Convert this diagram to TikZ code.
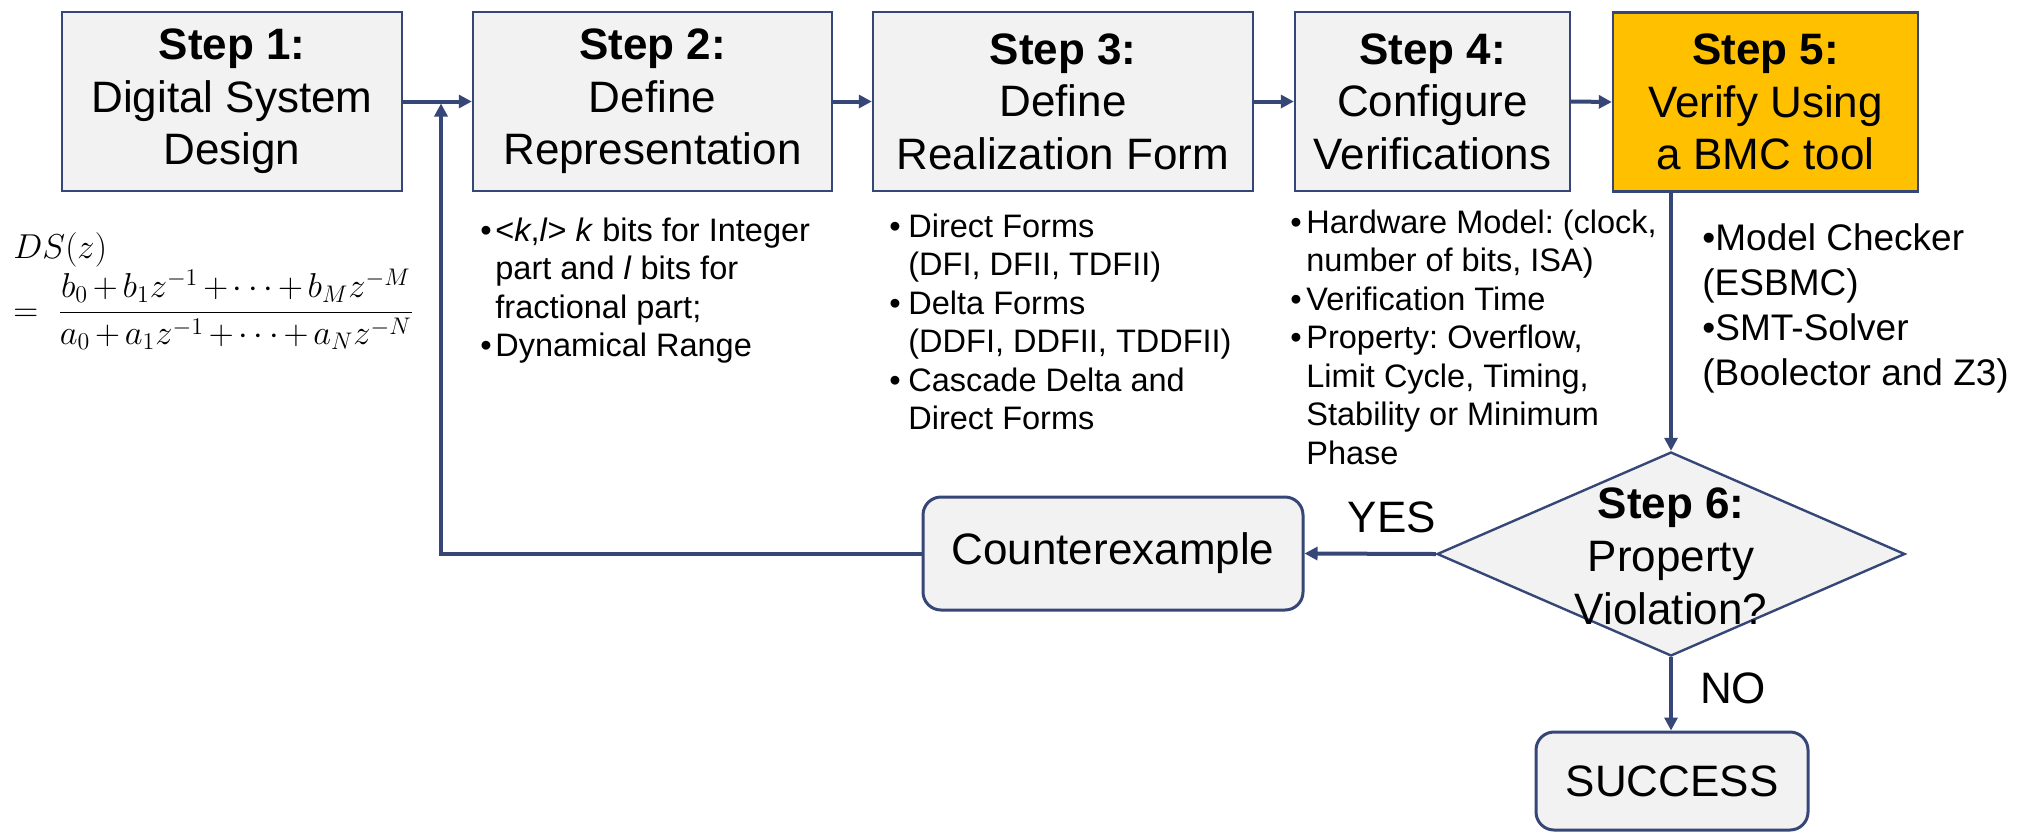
\documentclass[tikz,border=0pt]{standalone}
\usepackage{fontspec}
\setmainfont{Liberation Sans}
\usetikzlibrary{arrows.meta,shapes.geometric}

\definecolor{navy}{HTML}{364777}
\definecolor{boxgray}{HTML}{F2F2F2}
\definecolor{gold}{HTML}{FFC000}

\newcommand{\bul}[1]{\makebox[#1][l]{\textbullet}}
\frenchspacing

\begin{document}
\begin{tikzpicture}[x=0.5pt,y=-0.5pt,
  stepbox/.style={draw=navy, line width=1.2pt, fill=boxgray, inner sep=0pt,
    align=center, font=\fontsize{22}{26.3}\selectfont, minimum height=89.5pt},
  endbox/.style={draw=navy, line width=1.5pt, fill=boxgray, inner sep=0pt,
    rounded corners=9pt, font=\fontsize{22}{26.5}\selectfont},
  flow/.style={draw=navy, line width=2pt, -{Triangle[length=6.5pt,width=6.5pt]}},
  notes/.style={anchor=base west, inner sep=0pt, font=\fontsize{16.25}{19.25}\selectfont},
  tag/.style={inner sep=0pt, font=\fontsize{22}{26.5}\selectfont}]

\useasboundingbox (0,0) rectangle (2028,831);

% --- step boxes along the top row
\node[stepbox, minimum width=170pt]   (s1) at (232,101.5)    {\textbf{Step 1:}\\Digital System\\Design};
\node[stepbox, minimum width=179.5pt] (s2) at (652.5,101.5)  {\textbf{Step 2:}\\Define\\Representation};
\node[stepbox, minimum width=190pt]   (s3) at (1063,101.5)   {\textbf{Step 3:}\\Define\\Realization Form};
\node[stepbox, minimum width=137.5pt] (s4) at (1432.5,101.5) {\textbf{Step 4:}\\Configure\\Verifications};
\node[stepbox, minimum width=152.5pt, fill=gold] (s5) at (1765.5,102) {\textbf{Step 5:}\\Verify Using\\a BMC tool};

% --- decision diamond and its label
\node[diamond, draw=navy, line width=1.2pt, fill=boxgray, inner sep=0pt,
      minimum width=234pt, minimum height=102pt] (dia) at (1671,554) {};
\node[tag, align=center] (diatext) at (1671,556) {\textbf{Step 6:}\\Property\\Violation?};

% --- outcome boxes
\node[endbox, minimum width=190pt, minimum height=56.5pt] (ce) at (1113,553.5) {Counterexample};
\node[endbox, minimum width=136pt, minimum height=49pt] (ok) at (1672,781) {SUCCESS};

\node[tag] (yes) at (1392,517) {YES};
\node[tag] (no) at (1733,688) {NO};

% --- transfer function under step 1
\node[anchor=base west, inner sep=0pt, font=\fontsize{17}{20}\selectfont] (dsz) at (13,258) {$DS(z)$};
\node[anchor=base west, inner sep=0pt, font=\fontsize{16.6}{20}\selectfont] (tf) at (13,321)
  {$\medmuskip=2.5mu =\;\displaystyle\frac{b_0+b_1z^{-1}+\cdots+b_Mz^{-M}}{a_0+a_1z^{-1}+\cdots+a_Nz^{-N}}$};

% --- notes under the step boxes
\node[notes] (n2) at (480,241) {\begin{tabular}[t]{@{}l@{}l@{}}
  \bul{7.5pt} & <\textit{k},\textit{l}> \textit{k} bits for Integer\\
   & part and \textit{l} bits for\\
   & fractional part;\\
  \bul{7.5pt} & Dynamical Range
\end{tabular}};

\node[notes] (n3) at (889,237) {\begin{tabular}[t]{@{}l@{}l@{}}
  \bul{9.5pt} & Direct Forms\\
   & (DFI, DFII, TDFII)\\
  \bul{9.5pt} & Delta Forms\\
   & (DDFI, DDFII, TDDFII)\\
  \bul{9.5pt} & Cascade Delta and\\
   & Direct Forms
\end{tabular}};

\node[notes] (n4) at (1290,233) {\begin{tabular}[t]{@{}l@{}l@{}}
  \bul{8pt} & Hardware Model: (clock,\\
   & number of bits, ISA)\\
  \bul{8pt} & Verification Time\\
  \bul{8pt} & Property: Overflow,\\
   & Limit Cycle, Timing,\\
   & Stability or Minimum\\
   & Phase
\end{tabular}};

\node[anchor=base west, inner sep=0pt, font=\fontsize{18.5}{22.5}\selectfont] (n5) at (1702,250)
  {\begin{tabular}[t]{@{}l@{}}
  \textbullet Model Checker\\
  (ESBMC)\\
  \textbullet SMT-Solver\\
  (Boolector and Z3)
\end{tabular}};

% --- connectors
\coordinate (join) at (441,101.5);
\draw[flow] (s1.east) -- (s2.west);
\draw[flow] (s2.east) -- (s3.west);
\draw[flow] (s3.east) -- (s4.west);
\draw[flow] (s4.east) -- (s5.west);
\draw[flow] (s5.south -| dia.north) -- (dia.north);
\draw[flow] (dia.west) -- (ce.east);
\draw[flow] (dia.south) -- (dia.south |- ok.north);
\draw[flow, shorten >=1pt] (ce.west) -| (join);
\end{tikzpicture}
\end{document}
